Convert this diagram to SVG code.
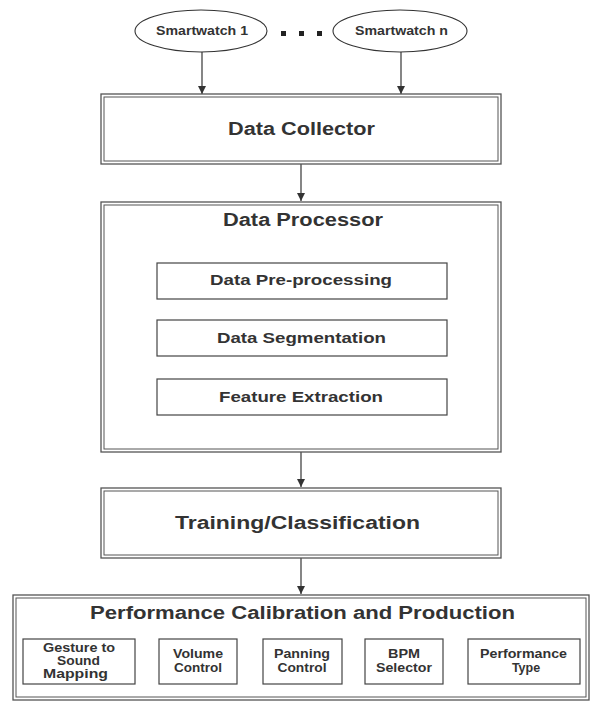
<svg xmlns="http://www.w3.org/2000/svg" width="591" height="702" viewBox="0 0 591 702">
<defs>
<style>
text{font-family:"Liberation Sans",Arial,sans-serif;font-weight:bold;fill:#333;text-anchor:middle}
.o{fill:#fff;stroke:#555;stroke-width:1.3}
.i{fill:none;stroke:#555;stroke-width:1}
.b{fill:#fff;stroke:#444;stroke-width:1.2}
.e{fill:#fff;stroke:#333;stroke-width:1.1}
.c{stroke:#444;stroke-width:1.3;fill:none;marker-end:url(#ah)}
.t18{font-size:17.5px}
.t15{font-size:14.5px}
.t13{font-size:12px}
.t12{font-size:12.5px}
</style>
<marker id="ah" markerWidth="10" markerHeight="10" refX="9" refY="5" orient="auto" markerUnits="userSpaceOnUse">
<path d="M1,1 L9,5 L1,9 Z" fill="#333"/>
</marker>
</defs>
<rect width="591" height="702" fill="#fff"/>
<g id="connectors">
<line class="c" x1="202" y1="52" x2="202" y2="94"/>
<line class="c" x1="401" y1="52" x2="401" y2="94"/>
<line class="c" x1="301" y1="164" x2="301" y2="201"/>
<line class="c" x1="301" y1="452" x2="301" y2="487"/>
<line class="c" x1="301" y1="558" x2="301" y2="594"/>
</g>
<g id="smartwatch1">
<ellipse class="e" cx="201" cy="31" rx="66" ry="21"/>
<text class="t13" x="202" y="35" textLength="92" lengthAdjust="spacingAndGlyphs">Smartwatch 1</text>
</g>
<g id="dots">
<rect x="281" y="31" width="5" height="5" fill="#222"/>
<rect x="299" y="31" width="5" height="5" fill="#222"/>
<rect x="317" y="31" width="5" height="5" fill="#222"/>
</g>
<g id="smartwatchn">
<ellipse class="e" cx="400" cy="31" rx="67" ry="21"/>
<text class="t13" x="401.5" y="35" textLength="93" lengthAdjust="spacingAndGlyphs">Smartwatch n</text>
</g>
<g id="collector">
<rect class="o" x="101" y="94" width="400" height="70"/>
<rect class="i" x="104" y="97" width="394" height="64"/>
<text class="t18" x="301.5" y="135" textLength="147" lengthAdjust="spacingAndGlyphs">Data Collector</text>
</g>
<g id="processor">
<rect class="o" x="101" y="202" width="400" height="250"/>
<rect class="i" x="104" y="205" width="394" height="244"/>
<text class="t18" x="303" y="226" textLength="160" lengthAdjust="spacingAndGlyphs">Data Processor</text>
</g>
<g id="preprocessing">
<rect class="b" x="157" y="263" width="290" height="36"/>
<text class="t15" x="301" y="285" textLength="182" lengthAdjust="spacingAndGlyphs">Data Pre-processing</text>
</g>
<g id="segmentation">
<rect class="b" x="157" y="320" width="290" height="36"/>
<text class="t15" x="301.5" y="343" textLength="169" lengthAdjust="spacingAndGlyphs">Data Segmentation</text>
</g>
<g id="feature">
<rect class="b" x="157" y="379" width="290" height="36"/>
<text class="t15" x="301" y="402" textLength="164" lengthAdjust="spacingAndGlyphs">Feature Extraction</text>
</g>
<g id="training">
<rect class="o" x="101" y="488" width="400" height="70"/>
<rect class="i" x="104" y="491" width="394" height="64"/>
<text class="t18" x="297.5" y="529" textLength="245" lengthAdjust="spacingAndGlyphs">Training/Classification</text>
</g>
<g id="performance">
<rect class="o" x="13" y="595" width="576" height="105"/>
<rect class="i" x="16" y="598" width="570" height="99"/>
<text x="302.5" y="619" style="font-size:18px" textLength="425" lengthAdjust="spacingAndGlyphs">Performance Calibration and Production</text>
</g>
<g id="gesture">
<rect class="b" x="23" y="639" width="112" height="45"/>
<text class="t12" x="79" y="652" textLength="72" lengthAdjust="spacingAndGlyphs">Gesture to</text>
<text class="t12" x="78.5" y="665" textLength="43" lengthAdjust="spacingAndGlyphs">Sound</text>
<text class="t12" x="75.5" y="678" textLength="65" lengthAdjust="spacingAndGlyphs">Mapping</text>
</g>
<g id="volume">
<rect class="b" x="159" y="639" width="78" height="45"/>
<text class="t12" x="198" y="658" textLength="50" lengthAdjust="spacingAndGlyphs">Volume</text>
<text class="t12" x="198" y="672" textLength="48" lengthAdjust="spacingAndGlyphs">Control</text>
</g>
<g id="panning">
<rect class="b" x="263" y="639" width="79" height="45"/>
<text class="t12" x="302" y="658" textLength="56" lengthAdjust="spacingAndGlyphs">Panning</text>
<text class="t12" x="302" y="672" textLength="49" lengthAdjust="spacingAndGlyphs">Control</text>
</g>
<g id="bpm">
<rect class="b" x="365" y="639" width="78" height="45"/>
<text class="t12" x="404" y="658" textLength="32" lengthAdjust="spacingAndGlyphs">BPM</text>
<text class="t12" x="404" y="672" textLength="56" lengthAdjust="spacingAndGlyphs">Selector</text>
</g>
<g id="ptype">
<rect class="b" x="468" y="639" width="112" height="45"/>
<text class="t12" x="523.5" y="658" textLength="87" lengthAdjust="spacingAndGlyphs">Performance</text>
<text class="t12" x="526" y="672">Type</text>
</g>
</svg>
